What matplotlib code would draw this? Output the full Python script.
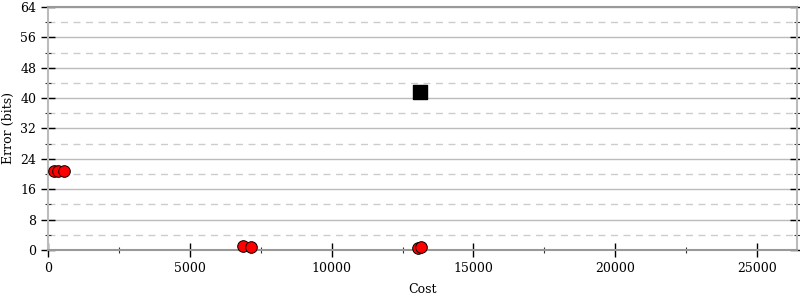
import matplotlib
matplotlib.use("Agg")
import matplotlib.pyplot as plt
from matplotlib.ticker import MultipleLocator

plt.rcParams['font.family'] = 'DejaVu Serif'

# red circles: cost vs error
circle_cost = [210, 350, 565, 6880, 7140, 13040, 13160]
circle_err = [20.9, 20.9, 20.9, 1.05, 0.9, 0.45, 0.85]
# black square
square_cost = [13120]
square_err = [41.5]

fig = plt.figure(figsize=(8, 3), dpi=100)
ax = fig.add_axes([0.06, 0.1667, 0.936, 0.81])

ax.scatter(circle_cost, circle_err, s=70, c='#ff0000', edgecolors='black',
           linewidths=0.7, zorder=3, clip_on=False)
ax.scatter(square_cost, square_err, s=90, marker='s', c='black', zorder=3)

ax.set_xlim(0, 26400)
ax.set_ylim(0, 64)
ax.xaxis.set_major_locator(MultipleLocator(5000))
ax.xaxis.set_minor_locator(MultipleLocator(2500))
ax.yaxis.set_major_locator(MultipleLocator(8))
ax.yaxis.set_minor_locator(MultipleLocator(4))

ax.grid(True, which='major', axis='y', color='#bbbbbb', linewidth=1, linestyle='-')
ax.grid(True, which='minor', axis='y', color='#cccccc', linewidth=1, linestyle=(0, (5, 4)))
ax.set_axisbelow(True)

for side in ['left', 'right', 'top', 'bottom']:
    ax.spines[side].set_color('#999999')
    ax.spines[side].set_linewidth(1.5)
ax.spines['left'].set_color('#bbbbbb')
ax.spines['right'].set_color('#bbbbbb')

ax.tick_params(which='major', direction='inout', length=10, width=1, labelsize=9,
               right=True, top=False, color='black')
ax.tick_params(which='minor', direction='inout', length=5, width=0.8,
               right=True, top=False, color='#333333')

ax.set_xlabel("Cost", fontsize=9, labelpad=6)
ax.set_ylabel("Error (bits)", fontsize=9, labelpad=4)

plt.savefig("out.png", dpi=100)
plt.close(fig)
